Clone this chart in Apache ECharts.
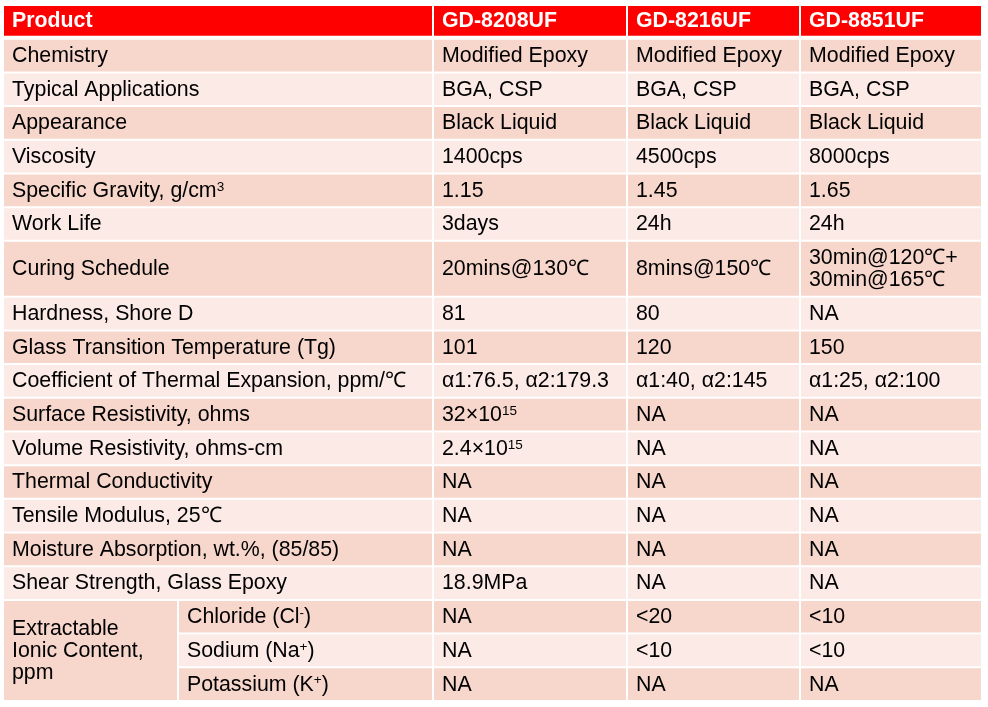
<!DOCTYPE html>
<html>
<head>
<meta charset="utf-8">
<script src="https://cdn.jsdelivr.net/npm/echarts@6/dist/echarts.min.js"></script>
<style>
html,body{margin:0;padding:0;background:#fff;}
#chart{width:988px;height:707px;}
</style>
</head>
<body>
<div id="chart"></div>
<script>
// ---------- data ----------
const headers = ['Product', 'GD-8208UF', 'GD-8216UF', 'GD-8851UF'];
const properties = [
  'Chemistry',
  'Typical Applications',
  'Appearance',
  'Viscosity',
  'Specific Gravity, g/cm{sup|3}',
  'Work Life',
  'Curing Schedule',
  'Hardness, Shore D',
  'Glass Transition Temperature (Tg)',
  'Coefficient of Thermal Expansion, ppm/℃',
  'Surface Resistivity, ohms',
  'Volume Resistivity, ohms-cm',
  'Thermal Conductivity',
  'Tensile Modulus, 25℃',
  'Moisture Absorption, wt.%, (85/85)',
  'Shear Strength, Glass Epoxy'
];
const ionicGroup = 'Extractable\nIonic Content,\nppm';
const ionicItems = ['Chloride (Cl{sup|-})', 'Sodium (Na{sup|+})', 'Potassium (K{sup|+})'];
const gd8208 = ['Modified Epoxy', 'BGA, CSP', 'Black Liquid', '1400cps', '1.15', '3days',
  '20mins@130℃', '81', '101', 'α1:76.5, α2:179.3', '32×10{sup|15}', '2.4×10{sup|15}',
  'NA', 'NA', 'NA', '18.9MPa', 'NA', 'NA', 'NA'];
const gd8216 = ['Modified Epoxy', 'BGA, CSP', 'Black Liquid', '4500cps', '1.45', '24h',
  '8mins@150℃', '80', '120', 'α1:40, α2:145', 'NA', 'NA',
  'NA', 'NA', 'NA', 'NA', '<20', '<10', 'NA'];
const gd8851 = ['Modified Epoxy', 'BGA, CSP', 'Black Liquid', '8000cps', '1.65', '24h',
  '30min@120℃+\n30min@165℃', 'NA', '150', 'α1:25, α2:100', 'NA', 'NA',
  'NA', 'NA', 'NA', 'NA', '<10', '<10', 'NA'];

// ---------- layout ----------
const colEdges = [0, 430, 624, 797, 979];   // table column boundaries (x axis units)
const subColEdge = 175;                       // split of first column for ionic rows
const rowUnits = [1, 1, 1, 1, 1, 1, 1.66, 1, 1, 1, 1, 1, 1, 1, 1, 1, 1, 1, 1]; // body rows
const headerUnits = 1;
const COLORS = { header: '#FF0000', dark: '#F7D6CC', light: '#FBEAE6' };

// ---------- build cells ----------
const rowStart = [];
let acc = headerUnits;
rowUnits.forEach(u => { rowStart.push(acc); acc += u; });
const totalUnits = acc;

const cells = [];
function addCell(x0, x1, y0, y1, text, kind) {
  cells.push({ value: [x0, x1, y0, y1], text: text, kind: kind });
}
// header
headers.forEach((h, c) => addCell(colEdges[c], colEdges[c + 1], 0, headerUnits, h, 'header'));
// body
const valueCols = [gd8208, gd8216, gd8851];
const nProps = properties.length;
for (let r = 0; r < rowUnits.length; r++) {
  const band = r % 2 === 0 ? 'dark' : 'light';
  const y0 = rowStart[r], y1 = rowStart[r] + rowUnits[r];
  if (r < nProps) {
    addCell(colEdges[0], colEdges[1], y0, y1, properties[r], band);
  } else {
    addCell(subColEdge, colEdges[1], y0, y1, ionicItems[r - nProps], band);
  }
  valueCols.forEach((col, c) => addCell(colEdges[c + 1], colEdges[c + 2], y0, y1, col[r], band));
}
// merged ionic group cell
addCell(colEdges[0], subColEdge, rowStart[nProps], totalUnits, ionicGroup, 'dark');

const chart = echarts.init(document.getElementById('chart'), null, { renderer: 'canvas' });

const FONT = "'Liberation Sans', Arial, sans-serif";

chart.setOption({
  animation: false,
  grid: { left: 3, top: 6, width: 979, height: 696 },
  xAxis: { type: 'value', min: 0, max: colEdges[colEdges.length - 1], show: false },
  yAxis: { type: 'value', min: 0, max: totalUnits, inverse: true, show: false },
  series: [{
    type: 'custom',
    coordinateSystem: 'cartesian2d',
    encode: { x: [0, 1], y: [2, 3] },
    data: cells.map(c => c.value),
    renderItem: function (params, api) {
      const cell = cells[params.dataIndex];
      const p0 = api.coord([api.value(0), api.value(2)]);
      const p1 = api.coord([api.value(1), api.value(3)]);
      const isHeader = cell.kind === 'header';
      const left = p0[0] + 1, right = p1[0] - 1;
      const top = p0[1], bottom = p1[1] - (isHeader ? 4 : 2);
      const color = COLORS[cell.kind];
      return {
        type: 'group',
        children: [
          { type: 'rect', shape: { x: left, y: top, width: right - left, height: bottom - top },
            style: { fill: color } },
          { type: 'text',
            style: {
              x: left + 8, y: (top + bottom) / 2 + 0.5,
              text: cell.text,
              fill: isHeader ? '#FFFFFF' : '#000000',
              fontFamily: FONT, fontSize: 21.33, fontWeight: isHeader ? 'bold' : 'normal',
              align: 'left', verticalAlign: 'middle', lineHeight: 22,
              rich: {
                sup: { fontSize: 13.5, fontFamily: FONT, lineHeight: 15, verticalAlign: 'top',
                       fill: isHeader ? '#FFFFFF' : '#000000' }
              }
            }
          }
        ]
      };
    }
  }]
});
</script>
</body>
</html>
